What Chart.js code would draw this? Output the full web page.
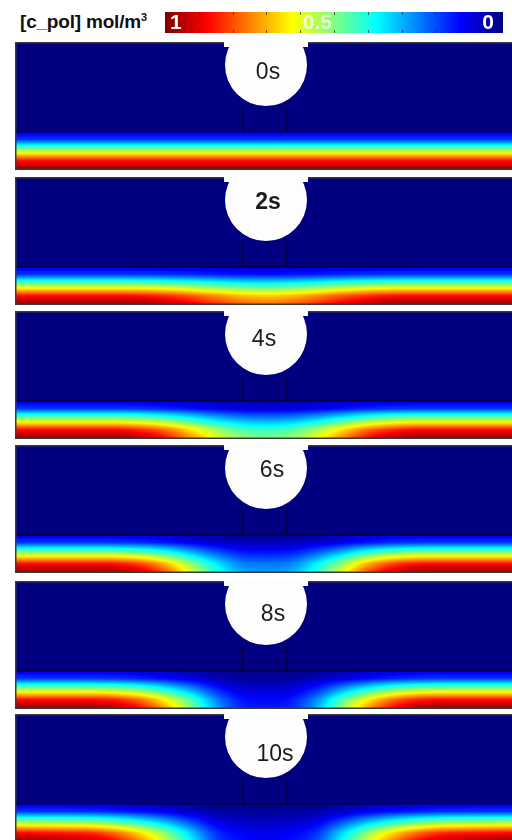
<!DOCTYPE html>
<html>
<head>
<meta charset="utf-8">
<script src="https://cdn.jsdelivr.net/npm/chart.js@4.4.1/dist/chart.umd.min.js"></script>
<style>
    html, body { margin: 0; padding: 0; background: #fff; overflow: hidden; }
    #wrap { position: relative; width: 512px; height: 840px; overflow: hidden; }
    #wrap canvas { position: absolute; }
    #unit { position: absolute; left: 20px; top: 11px; font: bold 19px "Liberation Sans", Arial, sans-serif; color: #111; letter-spacing: -0.2px; }
    #unit sup { font-size: 11px; vertical-align: 7px; }
</style>
</head>
<body>
<div id="wrap">
    <div id="unit">[c_pol] mol/m<sup>3</sup></div>
    <canvas id="colorbar" width="338" height="21" style="left:165px;top:12px"></canvas>
</div>
<script>
// snapshots
const timeLabels = ['0s', '2s', '4s', '6s', '8s', '10s'];

// distance from the contact centre (% of panel width)
const offsets = [0, 5, 10, 15, 20, 25, 30, 35, 50];

// relative concentration at the bottom of the layer for each snapshot
const level0s  = [1, 1, 1, 1, 1, 1, 1, 1, 1];
const level2s  = [0.78, 0.8, 0.85, 0.91, 0.96, 0.99, 1, 1, 1];
const level4s  = [0.5, 0.53, 0.62, 0.75, 0.88, 0.96, 1, 1, 1];
const level6s  = [0.28, 0.3, 0.42, 0.6, 0.8, 0.93, 0.99, 1, 1];
const level8s  = [0.15, 0.17, 0.3, 0.52, 0.72, 0.88, 0.97, 1, 1];
const level10s = [0.12, 0.14, 0.2, 0.38, 0.58, 0.75, 0.88, 0.96, 1];
const levels = [level0s, level2s, level4s, level6s, level8s, level10s];

// concentration across the layer (0 = interface, 1 = bottom of the layer)
const depthStops  = [0, 0.2, 0.35, 0.55, 0.75, 1];
const depthLevels = [0.1, 0.18, 0.38, 0.62, 0.86, 1];

// colour bar
const colorbarTicks = [0.1, 0.2, 0.3, 0.4, 0.5, 0.6, 0.7, 0.8, 0.9];
const colorbarLabels = [1, 0.5, 0];

// geometry (panel units: x 0..100, y 0..25.6)
const layerTop = 7.6;
const contactX = 50.2;
const contactY = 21;
const contactR = 8.2;
const padEdges = [45.6, 54.4];

// page layout
const panelTops = [42, 177, 311, 445, 581, 714];
const labelPos = [[50.6, 19.4], [50.6, 20.4], [49.8, 19.8], [51.4, 20.4], [51.6, 18.8], [52, 17.4]];

function jet(c) {
    const ch = v => Math.round(255 * Math.max(0, Math.min(1, v)));
    return [
        ch(Math.min(4 * c - 1.5, -4 * c + 4.5)),
        ch(Math.min(4 * c - 0.5, -4 * c + 3.5)),
        ch(Math.min(4 * c + 0.5, -4 * c + 2.5))
    ];
}

// smooth curve through the sampled values (catmull-rom), used for drawing only
function curve(xs, ys, x) {
    if (x <= xs[0]) return ys[0];
    const n = xs.length;
    if (x >= xs[n - 1]) return ys[n - 1];
    let i = 1;
    while (x > xs[i]) i++;
    const x0 = xs[i - 1], x1 = xs[i];
    const t = (x - x0) / (x1 - x0);
    const y0 = ys[Math.max(0, i - 2)], y1 = ys[i - 1], y2 = ys[i], y3 = ys[Math.min(n - 1, i + 1)];
    const m1 = (y2 - y0) / 2, m2 = (y3 - y1) / 2;
    const t2 = t * t, t3 = t2 * t;
    const v = (2 * t3 - 3 * t2 + 1) * y1 + (t3 - 2 * t2 + t) * m1 + (-2 * t3 + 3 * t2) * y2 + (t3 - t2) * m2;
    return Math.max(Math.min(y1, y2), Math.min(Math.max(y1, y2), v));
}

function lerp(xs, ys, x) {
    if (x <= xs[0]) return ys[0];
    for (let i = 1; i < xs.length; i++) {
        if (x <= xs[i]) {
            const t = (x - xs[i - 1]) / (xs[i] - xs[i - 1]);
            return ys[i - 1] + t * (ys[i] - ys[i - 1]);
        }
    }
    return ys[ys.length - 1];
}

function fieldPlugin(level, label, index) {
    return {
        id: 'field',
        beforeDatasetsDraw(chart) {
            const { ctx, chartArea: a, scales: { x, y } } = chart;
            const [nr, ng, nb] = jet(0);
            ctx.save();
            ctx.fillStyle = `rgb(${nr},${ng},${nb})`;
            ctx.fillRect(a.left, a.top, a.width, a.height);

            const top = Math.round(y.getPixelForValue(layerTop));
            const left = Math.round(a.left);
            const w = Math.round(a.right) - left;
            const h = Math.round(a.bottom) - top;
            const img = ctx.createImageData(w, h);
            for (let i = 0; i < w; i++) {
                const f = curve(offsets, level, Math.abs(x.getValueForPixel(left + i + 0.5) - contactX));
                for (let j = 0; j < h; j++) {
                    const d = (layerTop - y.getValueForPixel(top + j + 0.5)) / layerTop;
                    const [r, g, b] = jet(f * lerp(depthStops, depthLevels, d));
                    const k = 4 * (j * w + i);
                    img.data[k] = r;
                    img.data[k + 1] = g;
                    img.data[k + 2] = b;
                    img.data[k + 3] = 255;
                }
            }
            ctx.putImageData(img, left, top);
            ctx.restore();
        },
        afterDatasetsDraw(chart) {
            const { ctx, chartArea: a, scales: { x, y } } = chart;
            ctx.save();
            // frame
            ctx.strokeStyle = '#3a3a3a';
            ctx.lineWidth = 1.5;
            ctx.beginPath();
            ctx.moveTo(a.right + 2, a.top + 0.75);
            ctx.lineTo(a.left + 0.75, a.top + 0.75);
            ctx.lineTo(a.left + 0.75, a.bottom - 0.75);
            ctx.lineTo(a.right + 2, a.bottom - 0.75);
            ctx.stroke();

            // contact bump
            const cx = x.getPixelForValue(contactX);
            const cy = y.getPixelForValue(contactY);
            const r = x.getPixelForValue(contactX + contactR) - cx;
            ctx.fillStyle = '#fdfdfd';
            ctx.beginPath();
            ctx.arc(cx, cy, r, 0, Math.PI * 2);
            ctx.fill();
            ctx.fillRect(cx - r - 1, a.top - 1, 2 * r + 2, 6);

            ctx.fillStyle = '#1c1c1c';
            ctx.font = (index === 1 ? 'bold ' : '') + '23px "Liberation Sans", Arial, sans-serif';
            ctx.textAlign = 'center';
            ctx.textBaseline = 'middle';
            ctx.fillText(label, x.getPixelForValue(labelPos[index][0]), y.getPixelForValue(labelPos[index][1]));
            ctx.restore();
        }
    };
}

function lineSet(points) {
    return {
        data: points,
        showLine: true,
        borderColor: 'rgba(0,0,0,0.85)',
        borderWidth: 1,
        pointRadius: 0,
        fill: false
    };
}

const wrap = document.getElementById('wrap');
timeLabels.forEach((label, i) => {
    const canvas = document.createElement('canvas');
    canvas.width = 500;
    canvas.height = 128;
    canvas.style.left = '15px';
    canvas.style.top = panelTops[i] + 'px';
    wrap.appendChild(canvas);

    new Chart(canvas, {
        type: 'scatter',
        data: {
            datasets: [
                lineSet([{ x: 0, y: layerTop }, { x: 100, y: layerTop }]),
                lineSet([{ x: padEdges[0], y: layerTop }, { x: padEdges[0], y: contactY - contactR }]),
                lineSet([{ x: padEdges[1], y: layerTop }, { x: padEdges[1], y: contactY - contactR }])
            ]
        },
        options: {
            responsive: false,
            devicePixelRatio: 1,
            animation: false,
            events: [],
            layout: { padding: 0 },
            scales: {
                x: { type: 'linear', min: 0, max: 100, display: false },
                y: { type: 'linear', min: 0, max: 25.6, display: false }
            },
            plugins: { legend: { display: false }, tooltip: { enabled: false } }
        },
        plugins: [fieldPlugin(levels[i], label, i)]
    });
});

// colour bar
new Chart(document.getElementById('colorbar'), {
    type: 'scatter',
    data: { datasets: [] },
    options: {
        responsive: false,
        devicePixelRatio: 1,
        animation: false,
        events: [],
        layout: { padding: 0 },
        scales: {
            x: { type: 'linear', min: 0, max: 1, reverse: true, display: false },
            y: { type: 'linear', min: 0, max: 1, display: false }
        },
        plugins: { legend: { display: false }, tooltip: { enabled: false } }
    },
    plugins: [{
        id: 'bar',
        afterDraw(chart) {
            const { ctx, chartArea: a, scales: { x } } = chart;
            ctx.save();
            for (let px = Math.round(a.left); px < Math.round(a.right); px++) {
                const [r, g, b] = jet(x.getValueForPixel(px + 0.5));
                ctx.fillStyle = `rgb(${r},${g},${b})`;
                ctx.fillRect(px, a.top, 1, a.height);
            }
            ctx.strokeStyle = 'rgba(40,40,40,0.7)';
            ctx.lineWidth = 1;
            colorbarTicks.forEach(t => {
                const px = Math.round(x.getPixelForValue(t)) + 0.5;
                ctx.beginPath();
                ctx.moveTo(px, a.top); ctx.lineTo(px, a.top + 3);
                ctx.moveTo(px, a.bottom); ctx.lineTo(px, a.bottom - 3);
                ctx.stroke();
            });
            ctx.font = 'bold 21px "Liberation Sans Narrow", "Liberation Sans", Arial, sans-serif';
            ctx.textBaseline = 'middle';
            colorbarLabels.forEach(v => {
                const px = x.getPixelForValue(v);
                if (v === 1) { ctx.textAlign = 'left'; ctx.fillStyle = '#fff'; ctx.fillText('1', px + 5, a.top + 11.5); }
                else if (v === 0) { ctx.textAlign = 'right'; ctx.fillStyle = '#fff'; ctx.fillText('0', px - 9, a.top + 11.5); }
                else { ctx.textAlign = 'right'; ctx.fillStyle = 'rgba(255,255,255,0.75)'; ctx.fillText(String(v), px - 2, a.top + 11.5); }
            });
            ctx.restore();
        }
    }]
});
</script>
</body>
</html>
